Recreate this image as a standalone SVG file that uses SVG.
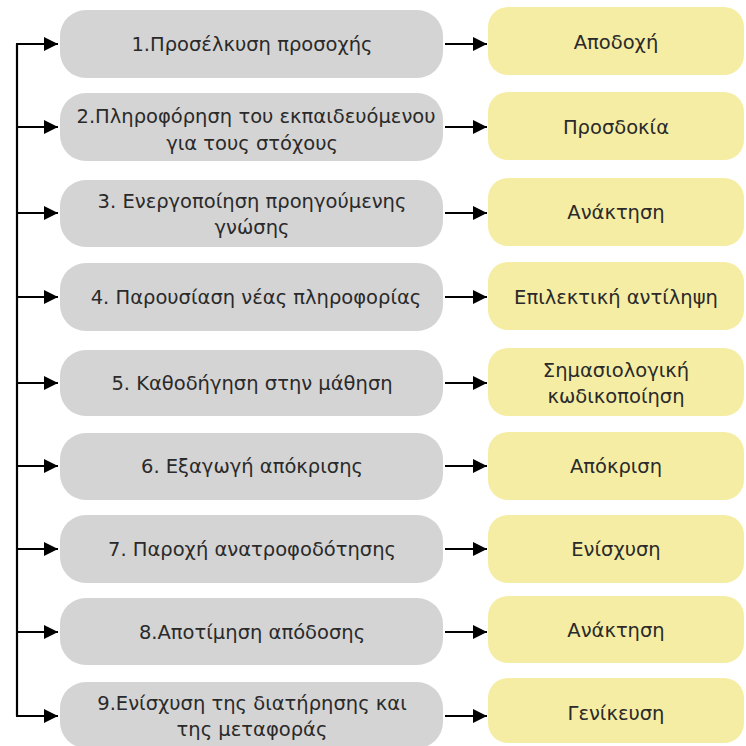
<svg xmlns="http://www.w3.org/2000/svg" width="746" height="746" viewBox="0 0 746 746">
<style>
.g{fill:#d4d4d4}
.y{fill:#f6eda4}
text{font-family:"DejaVu Sans","Liberation Sans",sans-serif;font-size:19.5px;fill:#2a2a2a;text-anchor:middle;dominant-baseline:central}
.c{stroke:#000;stroke-width:2.2;fill:none}
</style>
<defs>
<marker id="ah" viewBox="0 0 10 10" refX="10" refY="5" markerWidth="16" markerHeight="14" markerUnits="userSpaceOnUse" orient="auto">
<path d="M0,0 L10,5 L0,10 Z" fill="#000"/>
</marker>
</defs>
<rect width="746" height="746" fill="#fff"/>
<g id="connectors">
<path class="c" d="M17,44 V716"/>
<path class="c" d="M16,44 H58" marker-end="url(#ah)"/>
<path class="c" d="M16,127 H58" marker-end="url(#ah)"/>
<path class="c" d="M16,213 H58" marker-end="url(#ah)"/>
<path class="c" d="M16,297 H58" marker-end="url(#ah)"/>
<path class="c" d="M16,383 H58" marker-end="url(#ah)"/>
<path class="c" d="M16,466 H58" marker-end="url(#ah)"/>
<path class="c" d="M16,549 H58" marker-end="url(#ah)"/>
<path class="c" d="M16,632 H58" marker-end="url(#ah)"/>
<path class="c" d="M16,716 H58" marker-end="url(#ah)"/>
<path class="c" d="M445,44 H487" marker-end="url(#ah)"/>
<path class="c" d="M445,127 H487" marker-end="url(#ah)"/>
<path class="c" d="M445,213 H487" marker-end="url(#ah)"/>
<path class="c" d="M445,297 H487" marker-end="url(#ah)"/>
<path class="c" d="M445,383 H487" marker-end="url(#ah)"/>
<path class="c" d="M445,466 H487" marker-end="url(#ah)"/>
<path class="c" d="M445,549 H487" marker-end="url(#ah)"/>
<path class="c" d="M445,632 H487" marker-end="url(#ah)"/>
<path class="c" d="M445,716 H487" marker-end="url(#ah)"/>
</g>
<g id="s1"><rect class="g" x="60" y="10" width="383" height="68" rx="26"/><text x="252" y="44">1.Προσέλκυση προσοχής</text></g>
<g id="s2"><rect class="g" x="60" y="93" width="383" height="68" rx="26"/><text x="256" y="116">2.Πληροφόρηση του εκπαιδευόμενου</text><text x="252" y="143">για τους στόχους</text></g>
<g id="s3"><rect class="g" x="60" y="180" width="383" height="67" rx="26"/><text x="252" y="201">3. Ενεργοποίηση προηγούμενης</text><text x="252" y="227">γνώσης</text></g>
<g id="s4"><rect class="g" x="60" y="263" width="383" height="68" rx="26"/><text x="256" y="297">4. Παρουσίαση νέας πληροφορίας</text></g>
<g id="s5"><rect class="g" x="60" y="350" width="383" height="66" rx="26"/><text x="252" y="383">5. Καθοδήγηση στην μάθηση</text></g>
<g id="s6"><rect class="g" x="60" y="433" width="383" height="67" rx="26"/><text x="252" y="466">6. Εξαγωγή απόκρισης</text></g>
<g id="s7"><rect class="g" x="60" y="515" width="383" height="68" rx="26"/><text x="252" y="549">7. Παροχή ανατροφοδότησης</text></g>
<g id="s8"><rect class="g" x="60" y="598" width="383" height="67" rx="26"/><text x="252" y="632">8.Αποτίμηση απόδοσης</text></g>
<g id="s9"><rect class="g" x="60" y="682" width="383" height="66" rx="26"/><text x="252" y="703">9.Ενίσχυση της διατήρησης και</text><text x="252" y="729">της μεταφοράς</text></g>
<g id="r1"><rect class="y" x="488" y="7" width="256" height="68" rx="20"/><text x="616" y="42">Αποδοχή</text></g>
<g id="r2"><rect class="y" x="488" y="92" width="256" height="68" rx="20"/><text x="616" y="127">Προσδοκία</text></g>
<g id="r3"><rect class="y" x="488" y="178" width="256" height="68" rx="20"/><text x="616" y="212">Ανάκτηση</text></g>
<g id="r4"><rect class="y" x="488" y="262" width="256" height="68" rx="20"/><text x="616" y="297">Επιλεκτική αντίληψη</text></g>
<g id="r5"><rect class="y" x="488" y="348" width="256" height="68" rx="20"/><text x="616" y="370">Σημασιολογική</text><text x="616" y="396">κωδικοποίηση</text></g>
<g id="r6"><rect class="y" x="488" y="432" width="256" height="68" rx="20"/><text x="616" y="466">Απόκριση</text></g>
<g id="r7"><rect class="y" x="488" y="515" width="256" height="68" rx="20"/><text x="616" y="549">Ενίσχυση</text></g>
<g id="r8"><rect class="y" x="488" y="596" width="256" height="67" rx="20"/><text x="616" y="630">Ανάκτηση</text></g>
<g id="r9"><rect class="y" x="488" y="678" width="256" height="65" rx="20"/><text x="616" y="713">Γενίκευση</text></g>
</svg>
